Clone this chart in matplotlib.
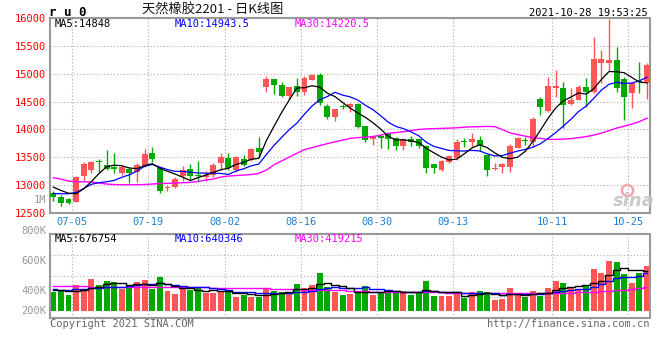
import numpy as np
import pandas as pd
import matplotlib
matplotlib.use('Agg')
import matplotlib.pyplot as plt

W, H = 660, 360
RED = '#ff5555'
GREEN = '#00a800'
GRID = '#aaaaaa'
MONO = 'DejaVu Sans Mono'

# daily K data, 2021-06-30 .. 2021-10-27
open_ = np.array([12855, 12790, 12750, 12700, 13165, 13270, 13425, 13360, 13320, 13210,
                  13285, 13240, 13340, 13580, 13300, 12945, 12970, 13170, 13290, 13180,
                  13150, 13180, 13390, 13480, 13270, 13470, 13450, 13675, 14755, 14900,
                  14795, 14595, 14775, 14675, 14895, 14975, 14415, 14215, 14410, 14405,
                  14465, 14060, 13820, 13880, 13930, 13855, 13705, 13820, 13820, 13700,
                  13380, 13280, 13420, 13480, 13790, 13780, 13810, 13540, 13290, 13330,
                  13330, 13675, 13815, 13780, 14540, 14335, 14735, 14735, 14455, 14535,
                  14755, 14665, 15195, 15195, 15240, 14910, 14655, 14860, 14835])
high = np.array([12895, 12825, 12770, 13170, 13420, 13435, 13475, 13630, 13570, 13360,
                 13300, 13390, 13645, 13690, 13320, 13000, 13150, 13340, 13380, 13440,
                 13255, 13390, 13570, 13580, 13520, 13540, 13660, 13865, 14960, 14905,
                 14855, 14765, 14930, 14955, 14990, 15020, 14465, 14375, 14450, 14475,
                 14475, 14065, 13900, 13900, 13940, 13865, 13840, 13880, 13830, 13720,
                 13385, 13450, 13540, 13820, 13855, 13930, 13880, 13545, 13400, 13400,
                 13735, 13865, 13865, 14215, 14575, 14940, 15075, 14855, 14745, 14795,
                 14915, 15660, 15420, 15990, 15480, 14950, 14855, 15210, 15200])
low = np.array([12720, 12630, 12660, 12700, 13080, 13210, 13210, 13270, 13210, 13180,
                13045, 13060, 13320, 13420, 12865, 12900, 12955, 13080, 13090, 13080,
                13080, 13150, 13280, 13270, 13240, 13340, 13430, 13510, 14675, 14630,
                14585, 14540, 14600, 14615, 14885, 14435, 14195, 14150, 14360, 14315,
                14030, 13780, 13720, 13660, 13640, 13630, 13630, 13700, 13675, 13210,
                13210, 13250, 13390, 13460, 13690, 13690, 13615, 13165, 13280, 13220,
                13240, 13660, 13720, 13690, 14255, 14315, 14575, 14030, 14435, 14525,
                14410, 14645, 14825, 15045, 14665, 14165, 14385, 14645, 14540])
close = np.array([12780, 12685, 12685, 13150, 13375, 13420, 13415, 13290, 13295, 13320,
                  13220, 13360, 13555, 13470, 12900, 12960, 13110, 13270, 13170, 13165,
                  13180, 13360, 13510, 13300, 13510, 13360, 13640, 13595, 14900, 14795,
                  14600, 14755, 14675, 14915, 14975, 14475, 14215, 14365, 14395, 14465,
                  14045, 13810, 13880, 13840, 13820, 13705, 13820, 13780, 13700, 13300,
                  13300, 13440, 13520, 13780, 13775, 13825, 13720, 13270, 13305, 13375,
                  13705, 13850, 13800, 14185, 14395, 14775, 14775, 14435, 14525, 14765,
                  14670, 15260, 15260, 15240, 14745, 14585, 14835, 14845, 15165])
volume = np.array([331500, 348700, 274800, 446600, 377900, 549700, 446600, 515300, 498100, 377900,
                   417400, 498100, 532500, 377900, 584000, 343500, 292000, 390000, 360700, 390000,
                   314300, 314300, 343500, 331500, 245600, 274800, 245600, 245600, 377900, 343500,
                   331500, 331500, 463800, 400200, 446600, 657900, 412000, 331500, 274800, 292000,
                   343500, 429400, 274800, 321200, 343500, 331500, 343500, 274800, 304000, 520500,
                   262800, 262800, 262800, 304000, 228500, 331500, 343500, 331500, 189000, 206000,
                   400200, 309000, 245600, 343500, 257700, 400200, 520500, 486000, 390000, 360700,
                   446600, 721400, 657900, 864000, 841700, 635500, 486000, 657900, 773000])

# moving averages at the left edge (earlier history is off-screen) and MA30 as drawn
ma5_lead = [12965, 12905, 12855, 12845]
ma10_lead = [12850, 12845, 12845, 12870, 12940, 13015, 13045, 13060, 13085]
ma30 = np.array([13133, 13109, 13073, 13061, 13061, 13056, 13038, 13020, 13011, 13007,
                 13007, 13007, 13011, 13020, 13029, 13032, 13038, 13043, 13050, 13064,
                 13091, 13109, 13145, 13163, 13172, 13181, 13190, 13211, 13271, 13366,
                 13435, 13504, 13572, 13638, 13674, 13710, 13745, 13778, 13808, 13839,
                 13853, 13862, 13871, 13898, 13930, 13943, 13960, 13978, 14000, 14009,
                 14014, 14018, 14023, 14029, 14041, 14046, 14050, 14054, 14050, 13996,
                 13939, 13907, 13880, 13853, 13839, 13821, 13821, 13826, 13835, 13853,
                 13871, 13898, 13934, 13978, 14023, 14059, 14095, 14140, 14202])
vma5_lead = [360000, 355000, 345000, 345000]
vma10_lead = [370000, 368000, 365000, 372000, 378000, 392000, 398000, 405000, 410000]
vma30 = np.array([434000, 433000, 431000, 426000, 424000, 420000, 418000, 416000, 414000, 413000,
                  412000, 412000, 411000, 410000, 409000, 408000, 407000, 407000, 406000, 405000,
                  404000, 402000, 400000, 398000, 396000, 394000, 392000, 390000, 388000, 385000,
                  380000, 375000, 370000, 366000, 363000, 361000, 360000, 358000, 355000, 350000,
                  345000, 340000, 335000, 332000, 331000, 330000, 330000, 329000, 328000, 327000,
                  325000, 322000, 318000, 316000, 315000, 314000, 314000, 313000, 312000, 311000,
                  310000, 310000, 309000, 309000, 308000, 308000, 309000, 312000, 316000, 322000,
                  328000, 335000, 342000, 348000, 355000, 368000, 385000, 402000, 419000])

tick_idx = [3, 13, 23, 33, 43, 53, 66, 76]
tick_labels = ['07-05', '07-19', '08-02', '08-16', '08-30', '09-13', '10-11', '10-25']
price_ticks = [12500, 13000, 13500, 14000, 14500, 15000, 15500, 16000]
vol_labels = ['800K', '600K', '400K', '200K']

ma5 = pd.Series(close).rolling(5).mean().to_numpy()
ma5[:4] = ma5_lead
ma10 = pd.Series(close).rolling(10).mean().to_numpy()
ma10[:9] = ma10_lead
vma5 = pd.Series(volume).rolling(5).mean().to_numpy()
vma5[:4] = vma5_lead
vma10 = pd.Series(volume).rolling(10).mean().to_numpy()
vma10[:9] = vma10_lead


def fp(px, py):
    return px / W, 1 - py / H


fig = plt.figure(figsize=(W / 100, H / 100), dpi=100)
ax = fig.add_axes([50 / W, 1 - 213 / H, 600 / W, 195 / H])
axv = fig.add_axes([50 / W, 1 - 318 / H, 600 / W, 84 / H])

x = np.arange(len(close))
cols = np.where(close >= open_, RED, GREEN)
xl = (-0.434, 78.39)

# price panel
for p in price_ticks[1:-1]:
    ax.axhline(p, color=GRID, lw=0.8, ls=(0, (1, 2)), zorder=0)
for t in tick_idx:
    ax.axvline(t - 0.5, color=GRID, lw=0.8, ls=(0, (1, 2)), zorder=0)
ax.vlines(x, low, high, colors=cols, lw=1, zorder=2)
ax.bar(x, np.maximum(np.abs(close - open_), 18), bottom=np.minimum(open_, close),
       width=0.78, color=cols, lw=0, zorder=3)
ax.plot(x, ma30, color='#ff00ff', lw=1, zorder=4)
ax.plot(x, ma10, color='#0000ff', lw=0.9, zorder=4)
ax.plot(x, ma5, color='black', lw=0.9, zorder=4)
ax.set_xlim(*xl)
ax.set_ylim(12500, 16000)
ax.set_yticks(price_ticks)
ax.set_yticklabels([str(p) for p in price_ticks], color='red', family=MONO, fontsize=7.5)
ax.set_xticks([t - 0.5 for t in tick_idx])
ax.set_xticklabels(tick_labels, color='#1f7fd0', family=MONO, fontsize=7.5)
ax.tick_params(length=0, pad=3)

# volume panel
for f in (0.25, 0.5, 0.75):
    axv.plot([0, 1], [f, f], transform=axv.transAxes, color=GRID, lw=0.8, ls=(0, (1, 2)), zorder=0)
for t in tick_idx:
    axv.axvline(t - 0.5, color=GRID, lw=0.8, ls=(0, (1, 2)), zorder=0)
axv.bar(x, volume, width=0.78, color=cols, lw=0, zorder=2)
axv.plot(x, vma30, color='#ff00ff', lw=1, drawstyle='steps-mid', zorder=3)
axv.plot(x, vma10, color='#0000ff', lw=1, drawstyle='steps-mid', zorder=3)
axv.plot(x, vma5, color='black', lw=1, drawstyle='steps-mid', zorder=3)
axv.set_xlim(*xl)
axv.set_ylim(-120000, 1323000)
axv.set_xticks([])
axv.set_yticks([])

for a in (ax, axv):
    for s in a.spines.values():
        s.set_color('#999999')
        s.set_linewidth(1.5)

# header texts
fig.text(*fp(49, 12), 'r u 0', family=MONO, weight='bold', fontsize=9, va='center', ha='left')
fig.text(*fp(213, 10), '天然橡胶2201 - 日K线图', family=['Noto Sans CJK SC', 'DejaVu Sans'],
         fontsize=9.5, va='center', ha='center', color='#111111')
fig.text(*fp(648, 12.5), '2021-10-28 19:53:25', family=MONO, fontsize=7.5, va='center', ha='right')

fig.text(*fp(55, 24), 'MA5:%d' % 14848, family=MONO, fontsize=7.5, va='center', color='black')
fig.text(*fp(175, 24), 'MA10:%.1f' % 14943.5, family=MONO, fontsize=7.5, va='center', color='#0000ff')
fig.text(*fp(295, 24), 'MA30:%.1f' % 14220.5, family=MONO, fontsize=7.5, va='center', color='#ff00ff')
fig.text(*fp(55, 239), 'MA5:%d' % 676754, family=MONO, fontsize=7.5, va='center', color='black')
fig.text(*fp(175, 239), 'MA10:%d' % 640346, family=MONO, fontsize=7.5, va='center', color='#0000ff')
fig.text(*fp(295, 239), 'MA30:%d' % 419215, family=MONO, fontsize=7.5, va='center', color='#ff00ff')

fig.text(*fp(46, 200), '1M', family=MONO, fontsize=7.5, va='center', ha='right', color='#999999')
for lab, py in zip(vol_labels, [231, 261, 291, 311]):
    fig.text(*fp(46, py), lab, family=MONO, fontsize=7.5, va='center', ha='right', color='#999999')

fig.text(*fp(50, 324), 'Copyright 2021 SINA.COM', family=MONO, fontsize=7.5, va='center',
         ha='left', color='#666666')
fig.text(*fp(649, 324), 'http://finance.sina.com.cn', family=MONO, fontsize=7.5, va='center',
         ha='right', color='#666666')

# sina watermark
fig.text(*fp(634, 201), 'sina', fontsize=13, style='italic', weight='bold', color='#c4c4c4',
         va='center', ha='center', alpha=0.9)
ax.plot([0.962], [0.12], 'o', transform=ax.transAxes, ms=8, mfc='none', mec='#f2a8a8', mew=1.8)

fig.savefig('out.png', dpi=100, facecolor='white')
